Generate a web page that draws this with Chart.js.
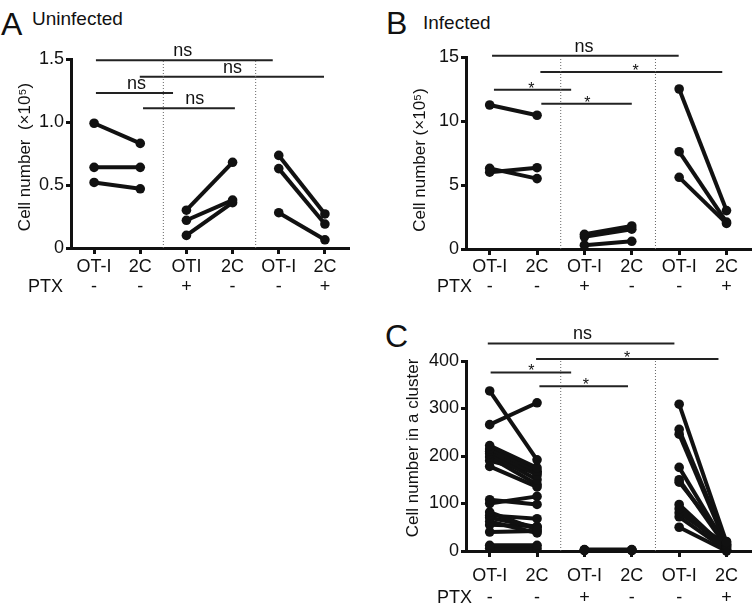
<!DOCTYPE html>
<html lang="en">
<head>
<meta charset="UTF-8">
<title>Cell number per condition</title>
<script src="https://cdn.jsdelivr.net/npm/chart.js"></script>
<style>
  body { margin: 0; background: #fff; font-family: "Liberation Sans", Arial, sans-serif; color: #111; }
  #wrap { position: relative; width: 755px; height: 612px; overflow: hidden; }
  canvas { position: absolute; }
  .letter { position: absolute; font-size: 32px; line-height: 1; }
  .cond { position: absolute; font-size: 19px; line-height: 1; }
</style>
</head>
<body>
<div id="wrap">
  <div class="letter" style="left:1px;top:8px">A</div>
  <div class="cond" style="left:32px;top:9px">Uninfected</div>
  <div class="letter" style="left:386px;top:7px">B</div>
  <div class="cond" style="left:423px;top:13px">Infected</div>
  <div class="letter" style="left:385px;top:320px">C</div>
  <canvas id="chartA" width="360" height="300" style="left:0;top:0"></canvas>
  <canvas id="chartB" width="385" height="300" style="left:370px;top:0"></canvas>
  <canvas id="chartC" width="385" height="312" style="left:370px;top:300px"></canvas>
</div>

<script>
// x labels
const catsA = ['OT-I', '2C', 'OTI', '2C', 'OT-I', '2C'];
const catsBC = ['OT-I', '2C', 'OT-I', '2C', 'OT-I', '2C'];
const ptxRow = ['-', '-', '+', '-', '-', '+'];

// A: uninfected (x10^5)
const aCtrlOT1 = [0.99, 0.64, 0.52];
const aCtrl2C  = [0.83, 0.64, 0.47];
const aPtxOT1  = [0.30, 0.22, 0.10];
const aPtx2C   = [0.68, 0.38, 0.36];
const aMixOT1  = [0.735, 0.63, 0.28];
const aMix2C   = [0.27, 0.19, 0.065];

// B: infected (x10^5)
const bCtrlOT1 = [11.25, 6.3, 6.0];
const bCtrl2C  = [10.45, 5.5, 6.35];
const bPtxOT1  = [1.15, 0.95, 0.3];
const bPtx2C   = [1.8, 1.55, 0.6];
const bMixOT1  = [12.5, 7.6, 5.6];
const bMix2C   = [3.0, 2.1, 2.0];

// C: cell number in a cluster
const cCtrlOT1 = [337, 266, 222, 215, 210, 205, 198, 190, 178, 108, 100, 82, 75, 70, 62, 55, 40, 12, 6];
const cCtrl2C  = [192, 312, 175, 168, 160, 150, 140, 165, 135, 98, 115, 45, 68, 50, 38, 52, 42, 12, 5];
const cPtxOT1  = [3, 2, 2, 1];
const cPtx2C   = [3, 2, 1, 2];
const cMixOT1  = [309, 256, 246, 176, 150, 145, 98, 89, 80, 72, 50];
const cMix2C   = [18, 15, 12, 10, 8, 20, 5, 3, 14, 2, 0];

// significance bars: [from, to, y, text, textX]
const sigA = [[0.04, 3.87, 1.49, 'ns', 1.92], [0.99, 4.98, 1.36, 'ns', 3.0], [0.04, 1.71, 1.23, 'ns', 0.92], [1.06, 3.05, 1.11, 'ns', 2.18]];
const sigB = [[0.05, 3.99, 15.1, 'ns', 1.99], [1.07, 4.91, 13.83, '*', 3.08], [0.09, 1.72, 12.45, '*', 0.88], [1.09, 3.0, 11.35, '*', 2.06]];
const sigC = [[-0.04, 3.9, 437, 'ns', 1.96], [0.98, 4.83, 404, '*', 2.9], [0.02, 1.72, 376, '*', 0.88], [1.05, 2.92, 347, '*', 2.03]];

const FONT = '"Liberation Sans", Arial, sans-serif';
Chart.defaults.font.family = FONT;
Chart.defaults.color = '#111';

function pairSets(from, to, xa) {
  return from.map((v, i) => ({
    data: [{ x: xa, y: v }, { x: xa + 1, y: to[i] }],
    borderColor: '#111', backgroundColor: '#111', borderWidth: 4,
    pointRadius: 4.8, pointBorderWidth: 0, clip: false
  }));
}

function sepSets(ymax) {
  return [1.5, 3.5].map(xv => ({
    data: [{ x: xv, y: 0 }, { x: xv, y: ymax }],
    borderColor: '#666', borderWidth: 1, borderDash: [1, 2],
    pointRadius: 0, clip: false
  }));
}

function sigSets(sig) {
  return sig.map(s => ({
    data: [{ x: s[0], y: s[2] }, { x: s[1], y: s[2] }],
    borderColor: '#222', borderWidth: 2, pointRadius: 0, clip: false
  }));
}

const annot = {
  id: 'annot',
  afterDraw(chart, args, o) {
    const { ctx, chartArea: ca, scales: { x, y } } = chart;
    ctx.save();
    ctx.fillStyle = '#111';
    // y title
    ctx.save();
    ctx.font = '17px ' + FONT;
    ctx.translate(ca.left - o.titleGap, o.titleMid);
    ctx.rotate(-Math.PI / 2);
    ctx.textAlign = 'center';
    ctx.textBaseline = 'middle';
    ctx.fillText(o.title, 0, 0);
    ctx.restore();
    // PTX row label
    ctx.font = '18px ' + FONT;
    ctx.textAlign = 'right';
    ctx.textBaseline = 'middle';
    ctx.fillText('PTX', ca.left + o.ptxRight, ca.bottom + o.ptxDown);
    // significance text
    ctx.textAlign = 'center';
    ctx.textBaseline = 'alphabetic';
    o.sig.forEach(s => {
      const px = x.getPixelForValue(s[4]);
      const py = y.getPixelForValue(s[2]);
      if (s[3] === 'ns') {
        ctx.font = '18px ' + FONT;
        ctx.fillText('ns', px, py - 4);
      } else {
        ctx.font = '16px ' + FONT;
        ctx.fillText('*', px, py + 4);
      }
    });
    ctx.restore();
  }
};

function makePanel(id, p) {
  const datasets = [].concat(
    sepSets(p.ymax),
    sigSets(p.sig),
    pairSets(p.g1[0], p.g1[1], 0),
    pairSets(p.g2[0], p.g2[1], 2),
    pairSets(p.g3[0], p.g3[1], 4)
  );
  new Chart(document.getElementById(id), {
    type: 'line',
    data: { datasets },
    plugins: [annot],
    options: {
      responsive: false,
      devicePixelRatio: 1,
      animation: false,
      layout: { padding: p.pad },
      plugins: {
        legend: { display: false },
        tooltip: { enabled: false },
        annot: { title: p.title, titleGap: p.titleGap, titleMid: p.titleMid, ptxRight: p.ptxRight, ptxDown: p.ptxDown, sig: p.sig }
      },
      scales: {
        x: {
          type: 'linear', min: -0.5, max: 5.5,
          afterBuildTicks: s => { s.ticks = p.cats.map((c, i) => ({ value: i })); },
          ticks: {
            autoSkip: false, maxRotation: 0, padding: p.xPad,
            font: { size: 18, lineHeight: p.xLine },
            callback: v => [p.cats[Math.round(v)], ptxRow[Math.round(v)]]
          },
          grid: { drawOnChartArea: false, color: '#111', lineWidth: 3, tickLength: 6 },
          border: { color: '#111', width: 3 },
          afterFit: s => { s.height = p.xH; }
        },
        y: {
          min: 0, max: p.ymax,
          ticks: {
            stepSize: p.step, padding: 2, font: { size: 18 },
            callback: p.fmt
          },
          grid: { drawOnChartArea: false, color: '#111', lineWidth: 3, tickLength: 5 },
          border: { color: '#111', width: 3 },
          afterFit: s => { s.width = 40; }
        }
      }
    }
  });
}

makePanel('chartA', {
  cats: catsA, ymax: 1.5, step: 0.5, fmt: v => v === 0 ? '0' : v.toFixed(1),
  g1: [aCtrlOT1, aCtrl2C], g2: [aPtxOT1, aPtx2C], g3: [aMixOT1, aMix2C], sig: sigA,
  pad: { left: 31, right: 12, top: 59, bottom: 1 }, xH: 51,
  xPad: 3, xLine: 1.12,
  title: 'Cell number  (\u00d710\u2075)', titleGap: 46, titleMid: 157,
  ptxRight: -8, ptxDown: 39
});

makePanel('chartB', {
  cats: catsBC, ymax: 15, step: 5, fmt: v => String(v),
  g1: [bCtrlOT1, bCtrl2C], g2: [bPtxOT1, bPtx2C], g3: [bMixOT1, bMix2C], sig: sigB,
  pad: { left: 56, right: 3, top: 57, bottom: 1 }, xH: 50,
  xPad: 2, xLine: 1.12,
  title: 'Cell number (\u00d710\u2075)', titleGap: 46, titleMid: 160,
  ptxRight: 6, ptxDown: 38
});

makePanel('chartC', {
  cats: catsBC, ymax: 400, step: 100, fmt: v => String(v),
  g1: [cCtrlOT1, cCtrl2C], g2: [cPtxOT1, cPtx2C], g3: [cMixOT1, cMix2C], sig: sigC,
  pad: { left: 56, right: 3, top: 61, bottom: 1 }, xH: 60,
  xPad: 9, xLine: 1.17,
  title: 'Cell number in a cluster', titleGap: 53, titleMid: 148,
  ptxRight: 6, ptxDown: 47
});
</script>
</body>
</html>
